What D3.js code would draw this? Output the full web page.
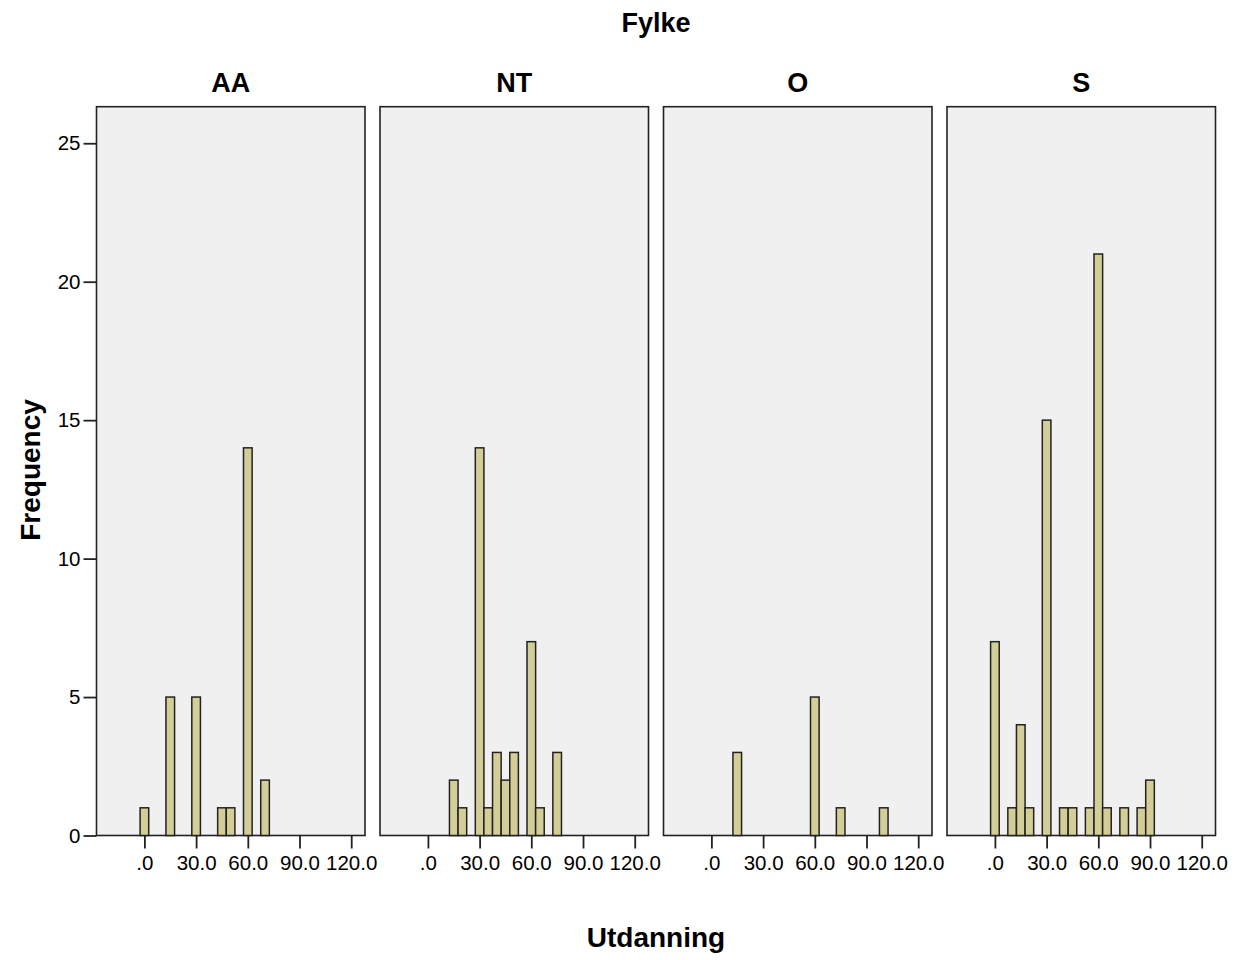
<!DOCTYPE html>
<html lang="en">
<head>
    <meta charset="UTF-8">
    <title>Utdanning by Fylke</title>
    <script src="https://cdn.jsdelivr.net/npm/d3@7"></script>
    <style>
        body { margin: 0; background: #fff; }
        text { font-family: "Liberation Sans", Arial, sans-serif; fill: #000; }
    </style>
</head>
<body>
<svg></svg>
<script>
    // facets
    var panels = ["AA", "NT", "O", "S"];

    // bin midpoints (Utdanning) and frequencies per panel, bin width 5
    var aaBins = [0, 15, 30, 45, 50, 60, 70];
    var aaCounts = [1, 5, 5, 1, 1, 14, 2];
    var ntBins = [15, 20, 30, 35, 40, 45, 50, 60, 65, 75];
    var ntCounts = [2, 1, 14, 1, 3, 2, 3, 7, 1, 3];
    var oBins = [15, 60, 75, 100];
    var oCounts = [3, 5, 1, 1];
    var sBins = [0, 10, 15, 20, 30, 40, 45, 55, 60, 65, 75, 85, 90];
    var sCounts = [7, 1, 4, 1, 15, 1, 1, 1, 21, 1, 1, 1, 2];

    var xTicks = [0, 30, 60, 90, 120];
    var yTicks = [0, 5, 10, 15, 20, 25];
    var binWidth = 5;

    var panelData = {
        AA: {bins: aaBins, counts: aaCounts},
        NT: {bins: ntBins, counts: ntCounts},
        O: {bins: oBins, counts: oCounts},
        S: {bins: sBins, counts: sCounts}
    };

    var width = 1245, height = 960;
    var svg = d3.select("svg").attr("width", width).attr("height", height);

    var plotLeft = 96.5, plotTop = 106.7, plotBottom = 835.5;
    var pw = 268.5, gap = 15;

    var x = d3.scaleLinear().domain([-27.8, 128]).range([0, pw]);
    var y = d3.scaleLinear().domain([0, 26.32]).range([plotBottom, plotTop]);

    var fmt = function (d) { return d === 0 ? ".0" : d.toFixed(1); };

    panels.forEach(function (p, i) {
        var g = svg.append("g").attr("transform", "translate(" + (plotLeft + i * (pw + gap)) + ",0)");

        g.append("rect")
            .attr("x", 0).attr("y", plotTop)
            .attr("width", pw).attr("height", plotBottom - plotTop)
            .attr("fill", "#f0f0f0")
            .attr("stroke", "#222")
            .attr("stroke-width", 1.6);

        var rows = panelData[p].bins.map(function (b, j) {
            return {bin: b, count: panelData[p].counts[j]};
        });

        g.selectAll(".bar")
            .data(rows)
            .enter()
            .append("rect")
            .attr("class", "bar")
            .attr("x", function (d) { return x(d.bin - binWidth / 2); })
            .attr("y", function (d) { return y(d.count); })
            .attr("width", function (d) { return x(d.bin + binWidth / 2) - x(d.bin - binWidth / 2); })
            .attr("height", function (d) { return y(0) - y(d.count); })
            .attr("fill", "#d3ce97")
            .attr("stroke", "#222")
            .attr("stroke-width", 1.5);

        // x axis
        var xa = g.append("g")
            .attr("transform", "translate(0," + plotBottom + ")")
            .call(d3.axisBottom(x).tickValues(xTicks).tickFormat(fmt).tickSize(13).tickPadding(7));
        xa.select(".domain").remove();
        xa.selectAll("line").attr("stroke", "#222").attr("stroke-width", 1.8);
        xa.selectAll("text").style("font-size", "20.5px").attr("fill", "#000");

        // panel label
        g.append("text")
            .attr("x", pw / 2).attr("y", 91.5)
            .attr("text-anchor", "middle")
            .style("font-size", "27px").style("font-weight", "bold")
            .text(p);
    });

    // y axis
    var ya = svg.append("g")
        .attr("transform", "translate(" + plotLeft + ",0)")
        .call(d3.axisLeft(y).tickValues(yTicks).tickFormat(d3.format("d")).tickSize(13).tickPadding(3));
    ya.select(".domain").remove();
    ya.selectAll("line").attr("stroke", "#222").attr("stroke-width", 1.8);
    ya.selectAll("text").style("font-size", "20.5px").attr("fill", "#000");

    var midX = plotLeft + (4 * pw + 3 * gap) / 2;

    svg.append("text")
        .attr("x", midX).attr("y", 31.5)
        .attr("text-anchor", "middle")
        .style("font-size", "27px").style("font-weight", "bold")
        .text("Fylke");

    svg.append("text")
        .attr("x", midX).attr("y", 946.5)
        .attr("text-anchor", "middle")
        .style("font-size", "28px").style("font-weight", "bold")
        .text("Utdanning");

    svg.append("text")
        .attr("transform", "translate(40," + 470 + ") rotate(-90)")
        .attr("text-anchor", "middle")
        .style("font-size", "28px").style("font-weight", "bold")
        .text("Frequency");
</script>
</body>
</html>
